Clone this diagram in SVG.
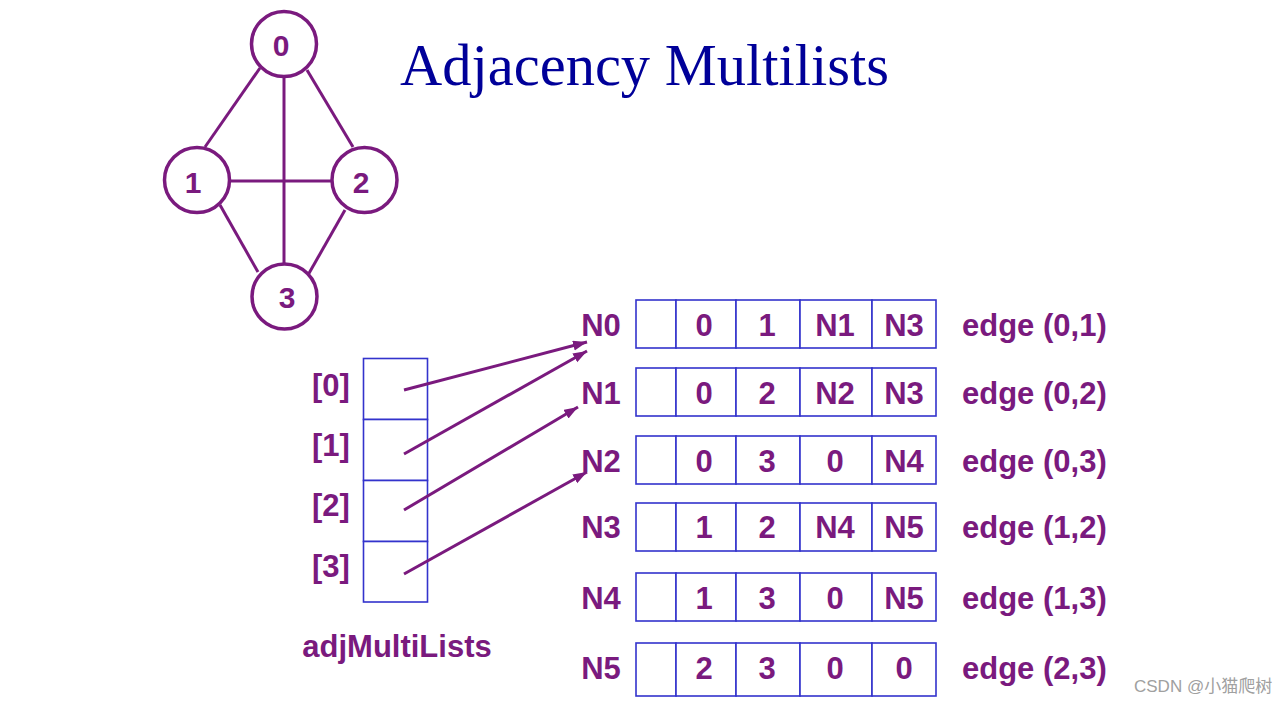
<svg xmlns="http://www.w3.org/2000/svg" width="1287" height="701" viewBox="0 0 1287 701">
<style>
.bg{fill:#ffffff}
.vtx{fill:#ffffff;stroke:#7A1A7E;stroke-width:3.5}
.gedge{stroke:#7A1A7E;stroke-width:3;fill:none}
.lbl{font-family:"Liberation Sans",Arial,sans-serif;font-weight:bold;fill:#7A1A7E}
.vl{font-size:30px;text-anchor:middle}
.t31{font-size:31px}
.mid{text-anchor:middle}
.cell{fill:#ffffff;stroke:#3333CC;stroke-width:1.6}
.arrow{stroke:#7A1A7E;stroke-width:3;fill:none;marker-end:url(#ah)}
.title{font-family:"Liberation Serif","Times New Roman",serif;font-size:58.5px;fill:#000099}
.wm{font-family:"Liberation Sans","Noto Sans CJK SC",sans-serif;font-size:17px;fill:#A0A0A0}
</style>
<defs>
<marker id="ah" markerUnits="userSpaceOnUse" markerWidth="16" markerHeight="12" refX="14" refY="5" orient="auto">
<path d="M0,0 L14,5 L0,10 Z" fill="#7A1A7E"/>
</marker>
</defs>
<rect class="bg" x="0" y="0" width="1287" height="701"/>

<text class="title" x="400" y="85">Adjacency Multilists</text>

<g id="graph-edges">
<line class="gedge" x1="260" y1="68" x2="205" y2="147"/>
<line class="gedge" x1="307" y1="70" x2="353" y2="147"/>
<line class="gedge" x1="284" y1="77" x2="284" y2="263"/>
<line class="gedge" x1="229" y1="181" x2="331" y2="181"/>
<line class="gedge" x1="220" y1="205" x2="258" y2="272"/>
<line class="gedge" x1="345" y1="210" x2="308" y2="275"/>
</g>
<g id="v0"><circle class="vtx" cx="284" cy="44" r="32.5"/><text class="lbl vl" x="281" y="56">0</text></g>
<g id="v1"><circle class="vtx" cx="197" cy="180" r="32.5"/><text class="lbl vl" x="193" y="193">1</text></g>
<g id="v2"><circle class="vtx" cx="364.5" cy="180" r="32.5"/><text class="lbl vl" x="361" y="193">2</text></g>
<g id="v3"><circle class="vtx" cx="284.5" cy="296.5" r="32.5"/><text class="lbl vl" x="287" y="308">3</text></g>

<g id="adjMultiLists">
<rect class="cell" x="363.5" y="358.5" width="64" height="61"/>
<rect class="cell" x="363.5" y="419.5" width="64" height="61"/>
<rect class="cell" x="363.5" y="480.5" width="64" height="61"/>
<rect class="cell" x="363.5" y="541.5" width="64" height="60.5"/>
<text class="lbl t31 mid" x="331" y="396">[0]</text>
<text class="lbl t31 mid" x="331" y="456">[1]</text>
<text class="lbl t31 mid" x="331" y="516">[2]</text>
<text class="lbl t31 mid" x="331" y="577">[3]</text>
<text class="lbl t31 mid" x="397" y="657">adjMultiLists</text>
</g>

<g id="connectors">
<line class="arrow" x1="404" y1="390" x2="587" y2="342"/>
<line class="arrow" x1="404" y1="454" x2="587" y2="351"/>
<line class="arrow" x1="404" y1="510" x2="578" y2="407"/>
<line class="arrow" x1="404" y1="574" x2="587" y2="472"/>
</g>

<g id="N0">
<rect class="cell" x="636" y="300" width="40" height="48"/><rect class="cell" x="676" y="300" width="60" height="48"/><rect class="cell" x="736" y="300" width="64" height="48"/><rect class="cell" x="800" y="300" width="72" height="48"/><rect class="cell" x="872" y="300" width="64" height="48"/>
<text class="lbl t31 mid" x="601" y="336">N0</text>
<text class="lbl t31 mid" x="704" y="336">0</text><text class="lbl t31 mid" x="767" y="336">1</text><text class="lbl t31 mid" x="835" y="336">N1</text><text class="lbl t31 mid" x="904" y="336">N3</text>
<text class="lbl t31" x="962" y="336">edge (0,1)</text>
</g>
<g id="N1">
<rect class="cell" x="636" y="368" width="40" height="48"/><rect class="cell" x="676" y="368" width="60" height="48"/><rect class="cell" x="736" y="368" width="64" height="48"/><rect class="cell" x="800" y="368" width="72" height="48"/><rect class="cell" x="872" y="368" width="64" height="48"/>
<text class="lbl t31 mid" x="601" y="404">N1</text>
<text class="lbl t31 mid" x="704" y="404">0</text><text class="lbl t31 mid" x="767" y="404">2</text><text class="lbl t31 mid" x="835" y="404">N2</text><text class="lbl t31 mid" x="904" y="404">N3</text>
<text class="lbl t31" x="962" y="404">edge (0,2)</text>
</g>
<g id="N2">
<rect class="cell" x="636" y="436" width="40" height="48"/><rect class="cell" x="676" y="436" width="60" height="48"/><rect class="cell" x="736" y="436" width="64" height="48"/><rect class="cell" x="800" y="436" width="72" height="48"/><rect class="cell" x="872" y="436" width="64" height="48"/>
<text class="lbl t31 mid" x="601" y="472">N2</text>
<text class="lbl t31 mid" x="704" y="472">0</text><text class="lbl t31 mid" x="767" y="472">3</text><text class="lbl t31 mid" x="835" y="472">0</text><text class="lbl t31 mid" x="904" y="472">N4</text>
<text class="lbl t31" x="962" y="472">edge (0,3)</text>
</g>
<g id="N3">
<rect class="cell" x="636" y="503" width="40" height="48"/><rect class="cell" x="676" y="503" width="60" height="48"/><rect class="cell" x="736" y="503" width="64" height="48"/><rect class="cell" x="800" y="503" width="72" height="48"/><rect class="cell" x="872" y="503" width="64" height="48"/>
<text class="lbl t31 mid" x="601" y="538">N3</text>
<text class="lbl t31 mid" x="704" y="538">1</text><text class="lbl t31 mid" x="767" y="538">2</text><text class="lbl t31 mid" x="835" y="538">N4</text><text class="lbl t31 mid" x="904" y="538">N5</text>
<text class="lbl t31" x="962" y="538">edge (1,2)</text>
</g>
<g id="N4">
<rect class="cell" x="636" y="573" width="40" height="48"/><rect class="cell" x="676" y="573" width="60" height="48"/><rect class="cell" x="736" y="573" width="64" height="48"/><rect class="cell" x="800" y="573" width="72" height="48"/><rect class="cell" x="872" y="573" width="64" height="48"/>
<text class="lbl t31 mid" x="601" y="609">N4</text>
<text class="lbl t31 mid" x="704" y="609">1</text><text class="lbl t31 mid" x="767" y="609">3</text><text class="lbl t31 mid" x="835" y="609">0</text><text class="lbl t31 mid" x="904" y="609">N5</text>
<text class="lbl t31" x="962" y="609">edge (1,3)</text>
</g>
<g id="N5">
<rect class="cell" x="636" y="643" width="40" height="53"/><rect class="cell" x="676" y="643" width="60" height="53"/><rect class="cell" x="736" y="643" width="64" height="53"/><rect class="cell" x="800" y="643" width="72" height="53"/><rect class="cell" x="872" y="643" width="64" height="53"/>
<text class="lbl t31 mid" x="601" y="679">N5</text>
<text class="lbl t31 mid" x="704" y="679">2</text><text class="lbl t31 mid" x="767" y="679">3</text><text class="lbl t31 mid" x="835" y="679">0</text><text class="lbl t31 mid" x="904" y="679">0</text>
<text class="lbl t31" x="962" y="679">edge (2,3)</text>
</g>

<text class="wm" x="1134" y="692">CSDN @小猫爬树</text>
</svg>
